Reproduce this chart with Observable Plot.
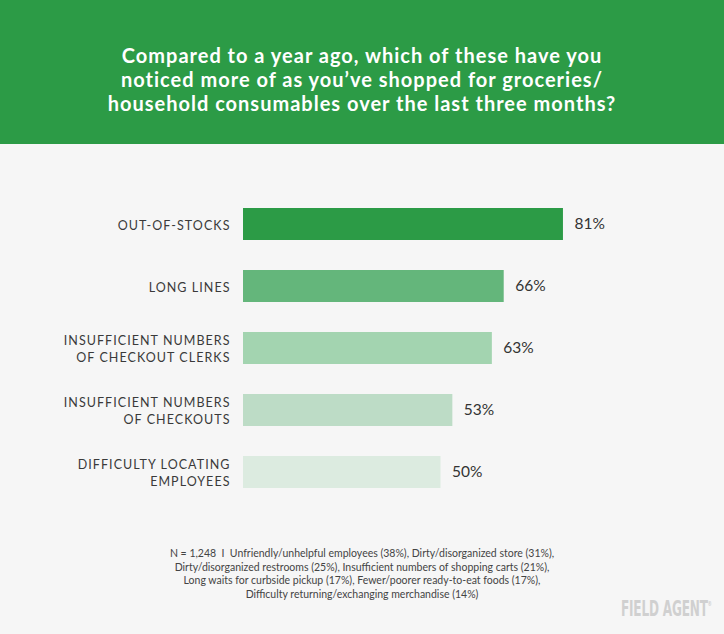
<!DOCTYPE html>
<html>
<head>
<meta charset="utf-8">
<script src="https://cdn.jsdelivr.net/npm/d3@7"></script>
<script src="https://cdn.jsdelivr.net/npm/@observablehq/plot@0.6"></script>
<style>
  html, body { margin: 0; padding: 0; background: #f6f6f6; }
  #page { position: relative; width: 724px; height: 634px; background: #f6f6f6; overflow: hidden; font-family: Lato, "Open Sans", sans-serif; }
  #header { position: absolute; left: 0; top: 0; width: 724px; height: 144px; background: #2c9b46; }
  #title { position: absolute; left: 0; top: 43px; width: 724px; text-align: center; color: #fff; font-size: 20px; font-weight: 700; line-height: 24px; letter-spacing: 1px; }
  #chart { position: absolute; left: 0; top: 144px; }
  #note { position: absolute; left: 0; top: 547px; width: 724px; text-align: center; color: #444; font-size: 10.5px; line-height: 13.5px; }
  #logo { position: absolute; left: 621px; top: 597px; color: #d0d0d0; font-family: "Liberation Sans Narrow", "DejaVu Sans Condensed", sans-serif; font-weight: 700; font-size: 21px; letter-spacing: -0.3px; transform: scaleX(0.64); transform-origin: left top; white-space: nowrap; }
  #logo sup { font-size: 7px; vertical-align: top; position: relative; top: 3px; }
</style>
</head>
<body>
<div id="page">
  <div id="header"><div id="title"></div></div>
  <div id="chart"></div>
  <div id="note"></div>
  <div id="logo">FIELD AGENT<sup>®</sup></div>
</div>
<script>
const titleLines = [
  "Compared to a year ago, which of these have you",
  "noticed more of as you’ve shopped for groceries/",
  "household consumables over the last three months?"
];
const categories = [
  "OUT-OF-STOCKS",
  "LONG LINES",
  "INSUFFICIENT NUMBERS\nOF CHECKOUT CLERKS",
  "INSUFFICIENT NUMBERS\nOF CHECKOUTS",
  "DIFFICULTY LOCATING\nEMPLOYEES"
];
const values = [81, 66, 63, 53, 50];
const barColors = ["#2c9b46", "#64b67b", "#a3d4b0", "#bddcc6", "#dcebe0"];
const noteLines = [
  "N = 1,248 &nbsp;I&nbsp; Unfriendly/unhelpful employees (38%), Dirty/disorganized store (31%),",
  "Dirty/disorganized restrooms (25%), Insufficient numbers of shopping carts (21%),",
  "Long waits for curbside pickup (17%), Fewer/poorer ready-to-eat foods (17%),",
  "Difficulty returning/exchanging merchandise (14%)"
];

document.getElementById("title").innerHTML = titleLines.join("<br>");
document.getElementById("note").innerHTML = noteLines.join("<br>");

const data = categories.map((c, i) => ({category: c, value: values[i]}));

const chart = Plot.plot({
  width: 724,
  height: 400,
  marginLeft: 243,
  marginRight: 86,
  marginTop: 31,
  marginBottom: 23,
  style: {background: "transparent", fontFamily: "Lato, 'Open Sans', sans-serif", color: "#3a3a3a"},
  x: {domain: [0, 100], axis: null},
  y: {domain: categories, padding: 0.49, paddingOuter: 0.5, label: null},
  color: {domain: categories, range: barColors},
  marks: [
    Plot.axisY({tickSize: 0, tickPadding: 13, fontSize: 12.5, lineHeight: 1.35, label: null}),
    Plot.barX(data, {y: "category", x: "value", fill: "category"}),
    Plot.text(data, {y: "category", x: "value", text: d => d.value + "%", dx: 11, textAnchor: "start", fontSize: 15.5, fill: "#333"})
  ]
});
d3.select(chart).selectAll("text")
  .filter(function() { return !this.textContent.includes("%"); })
  .attr("letter-spacing", "1.05px")
  .style("letter-spacing", "1.05px");
document.getElementById("chart").appendChild(chart);
</script>
</body>
</html>
